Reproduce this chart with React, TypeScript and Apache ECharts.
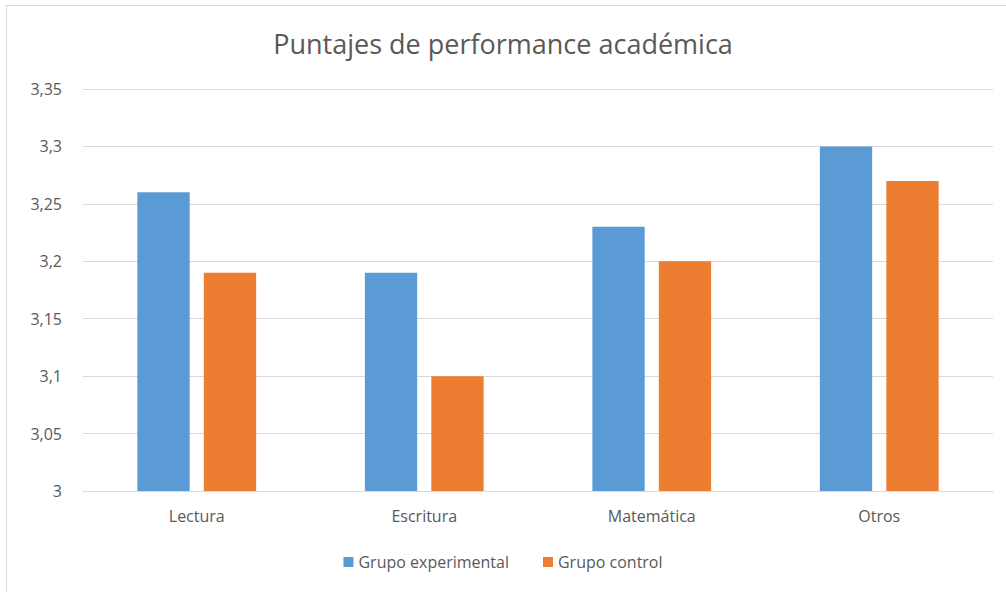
import React, { useEffect, useRef } from "react";
import * as echarts from "echarts";

const categories = ["Lectura", "Escritura", "Matemática", "Otros"];
const experimental = [3.26, 3.19, 3.23, 3.3];
const control = [3.19, 3.1, 3.2, 3.27];
const seriesNames = ["Grupo experimental", "Grupo control"];
const titleText = "Puntajes de performance académica";

export default function App() {
  const ref = useRef<HTMLDivElement>(null);
  useEffect(() => {
    if (!ref.current) return;
    const chart = echarts.init(ref.current, undefined, { renderer: "svg" });
    const font = "'Open Sans', 'Liberation Sans', sans-serif";
    chart.setOption({
      animation: false,
      backgroundColor: "transparent",
      title: {
        text: titleText,
        left: "center",
        top: 25,
        textStyle: { fontFamily: font, fontSize: 27, fontWeight: "normal", color: "#595959" },
      },
      legend: {
        bottom: 17,
        left: "center",
        itemWidth: 10,
        itemHeight: 10,
        itemGap: 34,
        icon: "rect",
        textStyle: { fontFamily: font, fontSize: 16, color: "#595959" },
        data: seriesNames,
      },
      grid: { left: 83, right: 13, top: 89, bottom: 101, containLabel: false },
      xAxis: {
        type: "category",
        data: categories,
        axisLine: { lineStyle: { color: "#d9d9d9", width: 1 } },
        axisTick: { show: false },
        axisLabel: { fontFamily: font, fontSize: 16, color: "#595959", margin: 17 },
      },
      yAxis: {
        type: "value",
        min: 3,
        max: 3.35,
        interval: 0.05,
        axisLine: { show: false },
        axisTick: { show: false },
        splitLine: { lineStyle: { color: "#d9d9d9", width: 1 } },
        axisLabel: {
          fontFamily: font,
          fontSize: 16,
          color: "#595959",
          margin: 21,
          formatter: (v: number) => String(Math.round(v * 100) / 100).replace(".", ","),
        },
      },
      series: [
        {
          name: seriesNames[0],
          type: "bar",
          data: experimental,
          barWidth: "23%",
          barGap: "27%",
          itemStyle: { color: "#5B9BD5" },
        },
        {
          name: seriesNames[1],
          type: "bar",
          data: control,
          barWidth: "23%",
          itemStyle: { color: "#ED7D31" },
        },
      ],
    });
    return () => chart.dispose();
  }, []);
  return (
    <div style={{ position: "fixed", left: 0, top: 0, width: 1006, height: 592, background: "#fff", overflow: "hidden" }}>
      <div
        style={{
          position: "absolute",
          left: 6,
          top: 5,
          width: 1010,
          height: 600,
          border: "1px solid #d9d9d9",
          boxSizing: "border-box",
        }}
      />
      <div ref={ref} style={{ position: "absolute", left: 0, top: 0, width: 1006, height: 592 }} />
    </div>
  );
}
